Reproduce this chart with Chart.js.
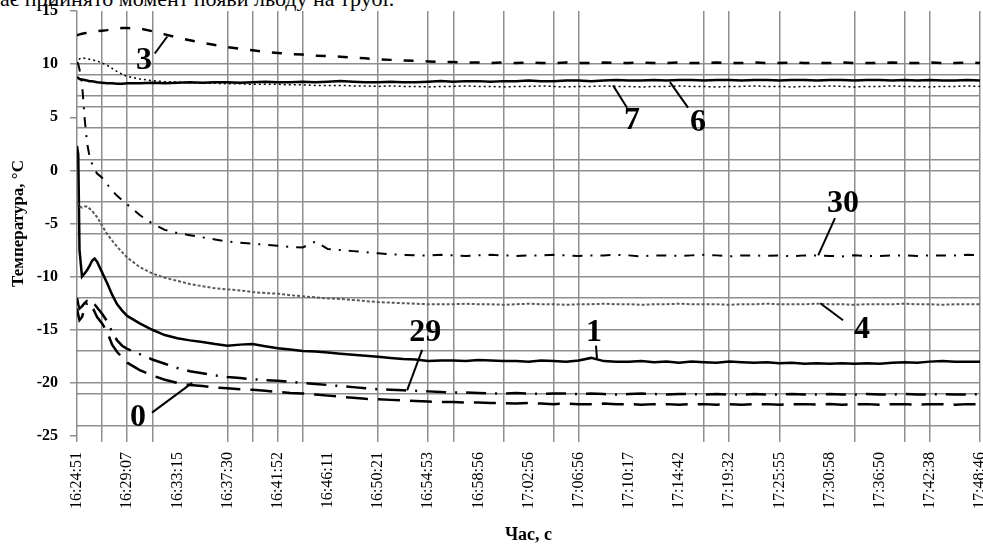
<!DOCTYPE html>
<html lang="uk">
<head>
<meta charset="UTF-8">
<title>Температура</title>
<script src="https://cdn.jsdelivr.net/npm/chart.js"></script>
<style>
  body { margin: 0; background: #fff; }
  #wrap { position: relative; width: 983px; height: 546px; overflow: hidden; }
  #cut { position: absolute; left: 0; top: -14px; font: 22px "Liberation Serif", serif; white-space: nowrap; color: #000; }
  canvas { position: absolute; left: 0; top: 0; }
</style>
</head>
<body>
<div id="wrap">
  <div id="cut">ає прийнято момент появи льоду на трубі.</div>
  <canvas id="tempChart" width="983" height="546"></canvas>
</div>

<script>
// time labels under every second grid step
const timeLabels = ["16:24:51", "16:29:07", "16:33:15", "16:37:30", "16:41:52", "16:46:11", "16:50:21",
  "16:54:53", "16:58:56", "17:02:56", "17:06:56", "17:10:17", "17:14:42", "17:19:32", "17:25:55",
  "17:30:58", "17:36:50", "17:42:38", "17:48:46"];

// sample positions along the time axis (in grid steps)
const xs = [0, 0.05, 0.1, 0.2, 0.3, 0.4, 0.5, 0.6, 0.7, 0.8, 1, 1.2, 1.4, 1.6, 1.8,
  2, 2.5, 3, 3.5, 4, 4.5, 5, 5.5, 6, 6.5, 7, 7.5, 8, 8.5, 9, 9.5, 10, 10.5, 11, 11.5,
  12, 12.5, 13, 13.5, 14, 14.5, 15, 15.5, 16, 16.5, 17, 17.5, 18, 18.5, 19, 19.5, 20, 20.5,
  21, 21.5, 22, 22.5, 23, 23.5, 24, 24.5, 25, 25.5, 26, 26.5, 27, 27.5, 28, 28.5, 29, 29.5,
  30, 30.5, 31, 31.5, 32, 32.5, 33, 33.5, 34, 34.5, 35, 35.5, 36];

const t3 = [12.7, 12.75, 12.8, 12.85, 12.9, 12.95, 13.0, 13.0, 13.05, 13.1, 13.15, 13.2, 13.3, 13.35, 13.4,
  13.4, 13.35, 13.1, 12.8, 12.5, 12.25, 12.0, 11.8, 11.6, 11.45,
  11.3, 11.15, 11.05, 10.95, 10.9, 10.8, 10.75, 10.7, 10.6, 10.55,
  10.45, 10.4, 10.35, 10.3, 10.25, 10.2, 10.2, 10.15, 10.15, 10.1,
  10.15, 10.1, 10.15, 10.1, 10.1, 10.15, 10.1, 10.1, 10.15, 10.1,
  10.1, 10.15, 10.1, 10.1, 10.15, 10.1, 10.1, 10.15, 10.1, 10.1,
  10.15, 10.1, 10.1, 10.15, 10.1, 10.1, 10.1, 10.15, 10.1, 10.1,
  10.1, 10.15, 10.1, 10.1, 10.15, 10.1, 10.1, 10.15, 10.1];

const t7 = [10.0, 10.3, 10.5, 10.6, 10.55, 10.5, 10.45, 10.4, 10.35, 10.3, 10.1, 9.9, 9.6, 9.3, 9.05,
  8.85, 8.6, 8.45, 8.35, 8.3, 8.25, 8.2, 8.2, 8.15, 8.15,
  8.1, 8.1, 8.1, 8.05, 8.05, 8.0, 8.0, 8.0, 7.95, 7.95,
  7.9, 7.95, 7.9, 7.9, 7.85, 7.9, 7.9, 7.95, 7.9, 7.9,
  7.85, 7.9, 7.9, 7.95, 7.9, 7.85, 7.9, 7.9, 7.95, 7.9,
  7.9, 7.85, 7.9, 7.9, 7.95, 7.9, 7.9, 7.85, 7.9, 7.9,
  7.95, 7.9, 7.9, 7.85, 7.9, 7.9, 7.95, 7.9, 7.85, 7.9,
  7.9, 7.95, 7.9, 7.9, 7.85, 7.9, 7.9, 7.95, 7.9];

const t6 = [8.8, 8.7, 8.6, 8.55, 8.5, 8.45, 8.4, 8.4, 8.35, 8.3, 8.25, 8.2, 8.2, 8.15, 8.15,
  8.2, 8.2, 8.25, 8.2, 8.25, 8.3, 8.25, 8.3, 8.3, 8.25,
  8.3, 8.35, 8.3, 8.3, 8.35, 8.3, 8.35, 8.4, 8.35, 8.3,
  8.3, 8.35, 8.3, 8.3, 8.35, 8.4, 8.35, 8.4, 8.4, 8.35,
  8.4, 8.4, 8.45, 8.4, 8.4, 8.45, 8.45, 8.4, 8.45, 8.5,
  8.45, 8.45, 8.5, 8.45, 8.5, 8.5, 8.45, 8.5, 8.5, 8.45,
  8.5, 8.5, 8.45, 8.5, 8.5, 8.45, 8.5, 8.5, 8.45, 8.5,
  8.5, 8.45, 8.5, 8.45, 8.5, 8.45, 8.45, 8.5, 8.45];

const t30 = [10.2, 10.0, 9.5, 8.2, 5.0, 2.6, 1.3, 0.6, 0.1, -0.3, -0.7, -1.3, -1.9, -2.4, -2.8,
  -3.2, -4.2, -5.0, -5.6, -5.9, -6.1, -6.3, -6.5, -6.7, -6.8,
  -6.9, -7.0, -7.1, -7.2, -7.25, -6.7, -7.4, -7.5, -7.6, -7.7,
  -7.8, -7.9, -7.95, -8.0, -8.0, -7.95, -8.0, -8.05, -8.0, -7.95,
  -8.0, -8.05, -8.0, -8.0, -7.95, -8.0, -8.05, -8.0, -8.0, -7.95,
  -8.0, -8.1, -8.0, -8.0, -8.05, -8.0, -7.95, -8.0, -8.1, -8.0,
  -8.0, -8.05, -8.0, -8.1, -8.0, -8.0, -8.05, -8.1, -8.0, -8.05,
  -8.05, -8.0, -8.0, -8.05, -8.0, -8.0, -8.0, -7.95, -8.0];

const t4 = [-3.0, -3.2, -3.4, -3.5, -3.4, -3.4, -3.6, -3.8, -4.1, -4.4, -5.2, -6.0, -6.6, -7.2, -7.7,
  -8.2, -9.1, -9.7, -10.1, -10.4, -10.7, -10.9, -11.1, -11.2, -11.3,
  -11.45, -11.55, -11.6, -11.75, -11.85, -11.95, -12.05, -12.1, -12.2, -12.3,
  -12.4, -12.45, -12.5, -12.55, -12.6, -12.6, -12.6, -12.55, -12.6, -12.6,
  -12.65, -12.6, -12.55, -12.6, -12.6, -12.65, -12.6, -12.6, -12.55, -12.6,
  -12.6, -12.65, -12.6, -12.6, -12.55, -12.6, -12.6, -12.6, -12.65, -12.6,
  -12.6, -12.55, -12.6, -12.6, -12.6, -12.55, -12.6, -12.6, -12.65, -12.6,
  -12.6, -12.6, -12.55, -12.6, -12.6, -12.65, -12.6, -12.6, -12.6];

const t1 = [2.3, 1.5, -7.5, -10.0, -9.7, -9.4, -9.0, -8.5, -8.3, -8.6, -9.6, -10.6, -11.7, -12.6, -13.2,
  -13.7, -14.4, -15.0, -15.5, -15.8, -16.0, -16.15, -16.35, -16.5, -16.4,
  -16.35, -16.55, -16.75, -16.85, -17.0, -17.05, -17.15, -17.25, -17.35, -17.45,
  -17.55, -17.65, -17.75, -17.8, -17.95, -17.9, -17.9, -17.95, -17.85, -17.9,
  -17.95, -17.95, -18.0, -17.9, -17.95, -18.0, -17.9, -17.65, -17.95, -18.0,
  -18.0, -17.95, -18.05, -18.0, -18.1, -18.0, -18.05, -18.1, -18.0, -18.05,
  -18.1, -18.05, -18.15, -18.1, -18.2, -18.15, -18.2, -18.15, -18.2, -18.15,
  -18.2, -18.1, -18.05, -18.1, -18.0, -17.95, -18.0, -18.0, -18.0];

const t29 = [-13.0, -13.6, -14.1, -13.8, -13.0, -12.5, -12.3, -12.4, -12.6, -12.9, -13.5, -14.2, -15.2, -16.0, -16.5,
  -16.8, -17.3, -17.8, -18.2, -18.6, -18.9, -19.1, -19.3, -19.45, -19.55,
  -19.65, -19.75, -19.8, -19.9, -20.0, -20.1, -20.2, -20.3, -20.4, -20.5,
  -20.6, -20.65, -20.7, -20.75, -20.8, -20.85, -20.9, -20.9, -20.95, -21.0,
  -21.0, -20.95, -21.0, -21.05, -21.0, -21.0, -21.05, -21.0, -21.05, -21.1,
  -21.05, -21.0, -21.05, -21.1, -21.05, -21.05, -21.1, -21.05, -21.1, -21.1,
  -21.05, -21.1, -21.1, -21.05, -21.1, -21.1, -21.05, -21.1, -21.1, -21.05,
  -21.1, -21.1, -21.05, -21.1, -21.1, -21.05, -21.1, -21.1, -21.05];

const t0 = [-12.0, -12.6, -13.0, -12.8, -12.5, -12.3, -12.4, -12.8, -13.3, -13.8, -14.4, -15.2, -16.4, -17.1, -17.6,
  -18.1, -18.8, -19.3, -19.7, -20.0, -20.2, -20.3, -20.45, -20.5, -20.6,
  -20.65, -20.75, -20.85, -20.95, -21.0, -21.1, -21.2, -21.3, -21.4, -21.5,
  -21.55, -21.6, -21.65, -21.7, -21.75, -21.8, -21.8, -21.85, -21.85, -21.9,
  -21.9, -21.95, -21.9, -21.95, -22.0, -21.95, -22.0, -22.0, -21.95, -22.0,
  -22.0, -22.05, -22.0, -22.0, -22.05, -22.0, -22.0, -22.05, -22.0, -22.05,
  -22.0, -22.0, -22.05, -22.0, -22.0, -22.05, -22.0, -22.05, -22.0, -22.0,
  -22.05, -22.0, -22.0, -22.05, -22.0, -22.0, -22.05, -22.0, -22.0];

// grid steps where the scanned grid lines are still visible
const visibleX = [0, 1, 2, 3, 6, 7, 8, 9, 12, 14, 15, 17, 19, 20, 25, 26, 28, 31, 33, 34, 36];
const visibleY = [10, 9, 7, 6, 4, 1, 0, -3, -5, -6, -10, -12, -15, -17, -20, -21, -24];

// sensor numbers with leader lines
const notes = [
  { text: "3",  x: 2.67,  y: 10.6,   from: [3.1, 11.0],    to: [3.6, 12.6] },
  { text: "7",  x: 22.13, y: 4.9,    from: [21.37, 8.0],   to: [21.93, 5.9] },
  { text: "6",  x: 24.76, y: 4.7,    from: [23.64, 8.3],   to: [24.36, 5.9] },
  { text: "30", x: 30.54, y: -2.9,   from: [30.22, -4.5],  to: [29.55, -8.0] },
  { text: "4",  x: 31.3,  y: -14.7,  from: [29.63, -12.5], to: [30.54, -14.1] },
  { text: "29", x: 13.88, y: -15.05, from: [13.76, -16.9], to: [13.16, -20.7] },
  { text: "1",  x: 20.61, y: -15.05, from: [20.69, -16.5], to: [20.73, -17.7] },
  { text: "0",  x: 2.43,  y: -23.0,  from: [2.99, -22.8],  to: [4.59, -20.0] }
];

const GRID = "#8e8e8e";
const serif = "Liberation Serif";

function pts(vals) {
  return xs.map((x, k) => ({ x: x, y: vals[k] }));
}

function line(label, vals, dash, width, color) {
  return {
    label: label,
    data: pts(vals),
    borderColor: color || "#000",
    borderWidth: width,
    borderDash: dash,
    pointRadius: 0,
    tension: 0,
    fill: false
  };
}

const notePlugin = {
  id: "notes",
  afterDatasetsDraw(chart) {
    const { ctx, scales: { x, y } } = chart;
    ctx.save();
    ctx.strokeStyle = "#000";
    ctx.lineWidth = 2;
    ctx.fillStyle = "#000";
    ctx.font = "bold 32px \"Liberation Serif\"";
    ctx.textAlign = "center";
    ctx.textBaseline = "alphabetic";
    notes.forEach(n => {
      ctx.beginPath();
      ctx.moveTo(x.getPixelForValue(n.from[0]), y.getPixelForValue(n.from[1]));
      ctx.lineTo(x.getPixelForValue(n.to[0]), y.getPixelForValue(n.to[1]));
      ctx.stroke();
      // digits are ~22px tall, so drop the baseline by half of that
      ctx.fillText(n.text, x.getPixelForValue(n.x), y.getPixelForValue(n.y) + 11);
    });
    ctx.restore();
  }
};

new Chart(document.getElementById("tempChart"), {
  type: "line",
  data: {
    datasets: [
      line("3", t3, [10, 12], 2.5),
      line("7", t7, [2, 3], 1.5),
      line("6", t6, [], 2.5),
      line("30", t30, [10, 8, 2, 8], 2),
      line("4", t4, [3, 2], 2, "#5a5a5a"),
      line("1", t1, [], 2.5),
      line("29", t29, [20, 9, 2, 9], 2.5),
      line("0", t0, [22, 10], 2.5)
    ]
  },
  options: {
    responsive: false,
    animation: false,
    layout: { padding: { top: 11, right: 3, left: 0, bottom: 0 } },
    plugins: { legend: { display: false }, tooltip: { enabled: false } },
    scales: {
      x: {
        type: "linear",
        min: 0,
        max: 36,
        border: { display: false },
        grid: {
          color: c => visibleX.includes(c.tick.value) ? GRID : "rgba(0,0,0,0)",
          tickColor: c => visibleX.includes(c.tick.value) ? GRID : "rgba(0,0,0,0)",
          lineWidth: 1.5,
          tickLength: 6
        },
        ticks: {
          stepSize: 1,
          autoSkip: false,
          minRotation: 90,
          maxRotation: 90,
          padding: 10,
          color: "#000",
          font: { family: serif, size: 16 },
          callback: v => (v % 2 === 0 ? timeLabels[v / 2] : "")
        },
        title: {
          display: true,
          text: "Час, с",
          color: "#000",
          font: { family: serif, size: 18, weight: "bold" },
          padding: { top: 0, bottom: 0 }
        },
        afterFit: s => { s.height = 110; s.paddingLeft = 0; s.paddingRight = 0; }
      },
      y: {
        min: -25,
        max: 15,
        border: { display: false },
        grid: {
          color: c => visibleY.includes(c.tick.value) ? GRID : "rgba(0,0,0,0)",
          tickColor: c => c.tick.value % 5 === 0 ? GRID : "rgba(0,0,0,0)",
          lineWidth: 1.5,
          tickLength: 7
        },
        ticks: {
          stepSize: 1,
          autoSkip: false,
          padding: 12,
          color: "#000",
          font: { family: serif, size: 16, weight: "bold" },
          callback: v => (v % 5 === 0 ? String(v) : "")
        },
        title: {
          display: true,
          text: "Температура, °С",
          color: "#000",
          font: { family: serif, size: 17, weight: "bold" },
          padding: { top: 8, bottom: 0 }
        },
        afterFit: s => { s.width = 77; s.paddingTop = 0; s.paddingBottom = 0; }
      }
    }
  },
  plugins: [notePlugin]
});
</script>
</body>
</html>
